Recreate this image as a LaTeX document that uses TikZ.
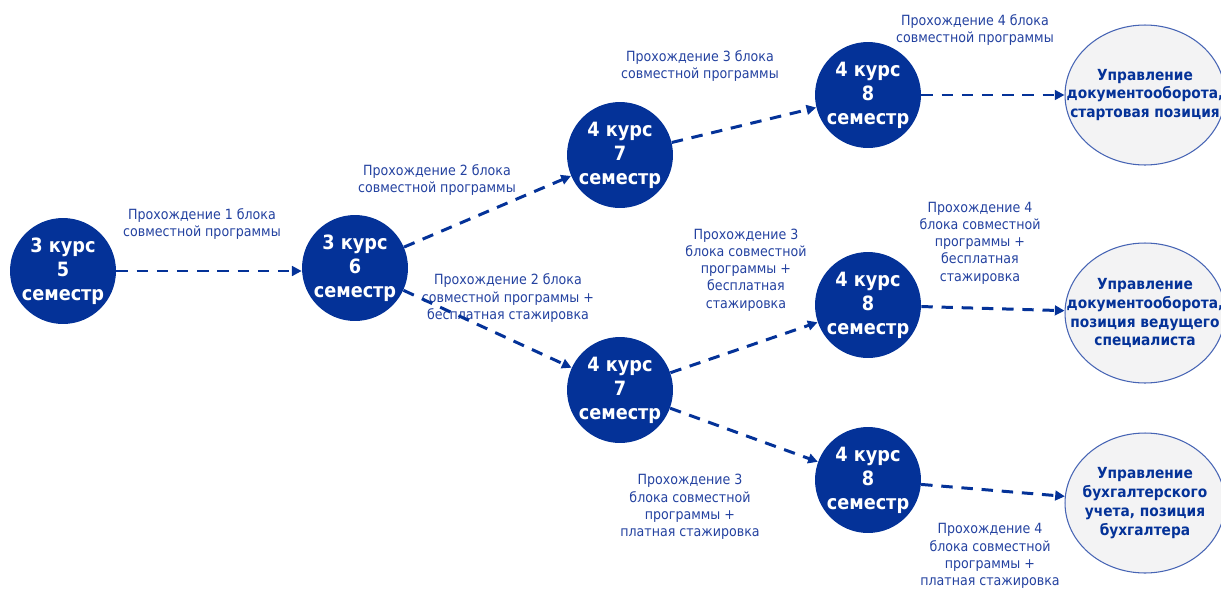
\documentclass[tikz,border=0pt]{standalone}
\usepackage{fontspec}
\setmainfont{DejaVu Sans Condensed}
\usetikzlibrary{arrows.meta, shapes.geometric}
\definecolor{kursblue}{RGB}{4,50,152}
\definecolor{labelblue}{RGB}{36,66,160}
\definecolor{goalfill}{RGB}{243,243,244}
\definecolor{goalline}{RGB}{70,100,180}

\begin{document}
\begin{tikzpicture}[x=0.02cm, y=-0.02cm,
        kurs/.style={circle, fill=kursblue, minimum size=2.12cm, inner sep=0pt, align=center, text=white, font=\bfseries\fontsize{11.2}{13.6}\selectfont},
        goal/.style={ellipse, draw=goalline, line width=0.6pt, fill=goalfill, minimum width=3.2cm, minimum height=2.8cm},
        goaltext/.style={align=center, text=kursblue, font=\bfseries\fontsize{8.7}{10.8}\selectfont},
        lbl/.style={align=center, text=labelblue, font=\fontsize{8}{9.8}\selectfont},
        hop/.style={draw=kursblue, line width=1.7pt, dash pattern=on 6.5pt off 5pt, -{Triangle[length=5.5pt, width=5.5pt]}}]
        \useasboundingbox (0,0) rectangle (1221,589);

        \node[kurs] (s5) at (63,271) {3 курс\\5\\семестр};
        \node[kurs] (s6) at (355,268) {3 курс\\6\\семестр};
        \node[kurs] (s7a) at (620,155) {4 курс\\7\\семестр};
        \node[kurs] (s7b) at (620,390) {4 курс\\7\\семестр};
        \node[kurs] (s8a) at (868,95) {4 курс\\8\\семестр};
        \node[kurs] (s8b) at (868,305) {4 курс\\8\\семестр};
        \node[kurs] (s8c) at (868,480) {4 курс\\8\\семестр};

        \node[goal, label={[goaltext]center:Управление\\документооборота,\\стартовая позиция}] (g1) at (1145,95) {};
        \node[goal, label={[goaltext]center:Управление\\документооборота,\\позиция ведущего\\специалиста}] (g2) at (1145,313) {};
        \node[goal, label={[goaltext]center:Управление\\бухгалтерского\\учета, позиция\\бухгалтера}] (g3) at (1145,503) {};

        \node[lbl] (l1) at (202,224) {Прохождение 1 блока\\совместной программы};
        \node[lbl] (l2a) at (437,180) {Прохождение 2 блока\\совместной программы};
        \node[lbl] (l2b) at (508,298) {Прохождение 2 блока\\совместной программы +\\бесплатная стажировка};
        \node[lbl] (l3a) at (700,66) {Прохождение 3 блока\\совместной программы};
        \node[lbl] (l3b) at (746,270) {Прохождение 3\\блока совместной\\программы +\\бесплатная\\стажировка};
        \node[lbl] (l3c) at (690,507) {Прохождение 3\\блока совместной\\программы +\\платная стажировка};
        \node[lbl] (l4a) at (975,30) {Прохождение 4 блока\\совместной программы};
        \node[lbl] (l4b) at (980,243) {Прохождение 4\\блока совместной\\программы +\\бесплатная\\стажировка};
        \node[lbl] (l4c) at (990,556) {Прохождение 4\\блока совместной\\программы +\\платная стажировка};

        \draw[hop] (s5) -- (s5 -| s6.west);
        \draw[hop] (s6) -- (s7a);
        \draw[hop] (s6) -- (s7b);
        \draw[hop] (s7a) -- (s8a);
        \draw[hop] (s7b) -- (s8b);
        \draw[hop] (s7b) -- (s8c);
        \draw[hop] (s8a) -- (g1);
        \draw[hop] (s8b) -- (g2);
        \draw[hop] (s8c) -- (g3);
\end{tikzpicture}
\end{document}
